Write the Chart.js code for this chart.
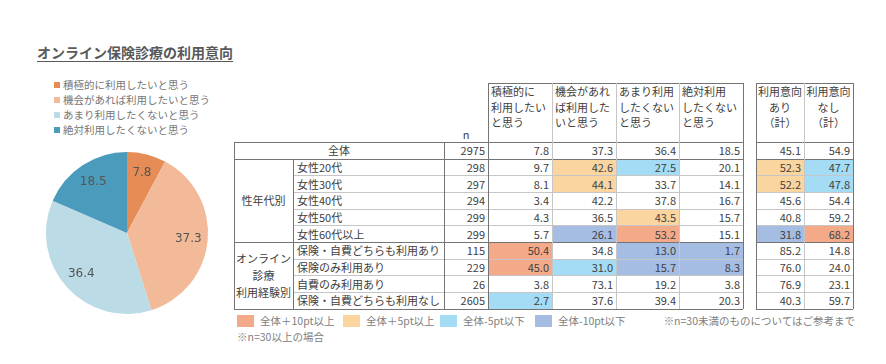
<!DOCTYPE html>
<html lang="ja">
<head>
<meta charset="utf-8">
<script src="https://cdn.jsdelivr.net/npm/chart.js"></script>
<style>
  body { margin: 0; background: #fff; font-family: "Noto Sans CJK JP", sans-serif; }
  #page { position: relative; width: 886px; height: 364px; overflow: hidden; }
  .t { position: absolute; white-space: nowrap; color: #404040; font-size: 11px; }
  .ln { position: absolute; }
  #title { position: absolute; left: 37px; top: 42px; font-size: 14px; font-weight: bold; color: #595959;
           text-decoration: underline; text-underline-offset: 3px; text-decoration-thickness: 1px; }
  #pieLegend { position: absolute; left: 54px; top: 77px; font-size: 10.5px; color: #767676; }
  #pieLegend div { height: 15px; line-height: 15px; }
  #pieLegend span { display: inline-block; width: 6px; height: 6px; margin-right: 3px; vertical-align: 1px; }
  #pieWrap { position: absolute; left: 37px; top: 143px; }
</style>
</head>
<body>
<div id="page">
  <div id="title">オンライン保険診療の利用意向</div>
  <div id="pieLegend"></div>
  <div id="pieWrap"><canvas id="pieChart" width="180" height="180"></canvas></div>
</div>
<script>
// pie
const categories = ['積極的に利用したいと思う', '機会があれば利用したいと思う', 'あまり利用したくないと思う', '絶対利用したくないと思う'];
const pieValues = [7.8, 37.3, 36.4, 18.5];
const pieColors = ['#E68D57', '#F2BA98', '#BBDBE6', '#4B9BBD'];

// table
const totalN = 2975;
const totalIntent = [45.1, 54.9];
const rowLabels = ['女性20代', '女性30代', '女性40代', '女性50代', '女性60代以上',
  '保険・自費どちらも利用あり', '保険のみ利用あり', '自費のみ利用あり', '保険・自費どちらも利用なし'];
const rowN = [298, 297, 294, 299, 299, 115, 229, 26, 2605];
const activeUse = [9.7, 8.1, 3.4, 4.3, 5.7, 50.4, 45.0, 3.8, 2.7];
const chanceUse = [42.6, 44.1, 42.2, 36.5, 26.1, 34.8, 31.0, 73.1, 37.6];
const rarelyUse = [27.5, 33.7, 37.8, 43.5, 53.2, 13.0, 15.7, 19.2, 39.4];
const neverUse = [20.1, 14.1, 16.7, 15.7, 15.1, 1.7, 8.3, 3.8, 20.3];
const intentYes = [52.3, 52.2, 45.6, 40.8, 31.8, 85.2, 76.0, 76.9, 40.3];
const intentNo = [47.7, 47.8, 54.4, 59.2, 68.2, 14.8, 24.0, 23.1, 59.7];
const groupLabels = [['性年代別'], ['オンライン', '診療', '利用経験別']];
const groupSizes = [5, 4];
const colHeaders = [['積極的に', '利用したい', 'と思う'], ['機会があれ', 'ば利用した', 'いと思う'],
  ['あまり利用', 'したくない', 'と思う'], ['絶対利用', 'したくない', 'と思う']];
const sumHeaders = [['利用意向', 'あり', '（計）'], ['利用意向', 'なし', '（計）']];
const highlightLabels = ['全体＋10pt以上', '全体＋5pt以上', '全体-5pt以下', '全体-10pt以下'];
const highlightColors = ['#F4AA89', '#FAD5A0', '#A3DCF4', '#A5BCE3'];

const page = document.getElementById('page');
const DARK = '#747474', LIGHT = '#c6c6c6';

function text(str, x, y, w, h, align, extra) {
    const d = document.createElement('div');
    d.className = 't';
    d.textContent = str;
    Object.assign(d.style, {
        left: x + 'px', top: y + 'px', width: w + 'px', height: h + 'px',
        lineHeight: h + 'px', textAlign: align || 'left'
    }, extra || {});
    page.appendChild(d);
    return d;
}
function rect(x, y, w, h, color) {
    const d = document.createElement('div');
    d.className = 'ln';
    Object.assign(d.style, { left: x + 'px', top: y + 'px', width: w + 'px', height: h + 'px', background: color });
    page.appendChild(d);
}
const hline = (x1, x2, y, c) => rect(x1, y - 0.5, x2 - x1, 1, c);
const vline = (x, y1, y2, c) => rect(x - 0.5, y1, 1, y2 - y1, c);

// pie legend (html)
const legendBox = document.getElementById('pieLegend');
categories.forEach((c, i) => {
    const row = document.createElement('div');
    row.innerHTML = `<span style="background:${pieColors[i]}"></span>${c}`;
    legendBox.appendChild(row);
});

// pie value labels
const pieLabels = {
    id: 'pieLabels',
    afterDatasetsDraw(chart) {
        const ctx = chart.ctx;
        ctx.save();
        ctx.font = '12px "DejaVu Sans", sans-serif';
        ctx.fillStyle = '#555';
        ctx.textAlign = 'center';
        ctx.textBaseline = 'middle';
        chart.getDatasetMeta(0).data.forEach((arc, i) => {
            const p = arc.getProps(['x', 'y', 'startAngle', 'endAngle', 'outerRadius'], true);
            const a = (p.startAngle + p.endAngle) / 2;
            const r = p.outerRadius * 0.76;
            ctx.fillText(pieValues[i].toFixed(1), p.x + Math.cos(a) * r, p.y + Math.sin(a) * r);
        });
        ctx.restore();
    }
};

new Chart(document.getElementById('pieChart'), {
    type: 'pie',
    data: {
        labels: categories,
        datasets: [{ data: pieValues, backgroundColor: pieColors, borderWidth: 0 }]
    },
    options: {
        responsive: false,
        animation: false,
        layout: { padding: 9 },
        plugins: { legend: { display: false }, tooltip: { enabled: false } }
    },
    plugins: [pieLabels]
});

// ---- table ----
const colX = [234, 293, 444, 488, 552, 616, 679, 743];
const sumX = [756, 804, 853];
const headTop = 83, totalTop = 142, bodyTop = 159, bodyBottom = 309;
const rowH = (bodyBottom - bodyTop) / rowLabels.length;
const dataCols = [activeUse, chanceUse, rarelyUse, neverUse];
const sumCols = [intentYes, intentNo];

function level(v, base) {
    const d = v - base;
    if (d >= 10) return 0;
    if (d >= 5) return 1;
    if (d <= -10) return 3;
    if (d <= -5) return 2;
    return -1;
}
function groupOf(i) {
    let acc = 0;
    for (let g = 0; g < groupSizes.length; g++) {
        acc += groupSizes[g];
        if (i < acc) return g;
    }
    return groupSizes.length - 1;
}

// cell fills
rowLabels.forEach((lab, i) => {
    const y = bodyTop + i * rowH;
    if (rowN[i] < 30) return;
    dataCols.forEach((col, c) => {
        const lv = level(col[i], pieValues[c]);
        if (lv >= 0) rect(colX[3 + c], y, colX[4 + c] - colX[3 + c], rowH, highlightColors[lv]);
    });
    if (groupOf(i) === 0) {
        sumCols.forEach((col, c) => {
            const lv = level(col[i], totalIntent[c]);
            if (lv >= 0) rect(sumX[c], y, sumX[c + 1] - sumX[c], rowH, highlightColors[lv]);
        });
    }
});

// headers
colHeaders.forEach((lines, c) => {
    lines.forEach((s, k) => text(s, colX[3 + c] + 3, headTop + 1 + k * 15.5, 60, 15.5, 'left'));
});
sumHeaders.forEach((lines, c) => {
    lines.forEach((s, k) => text(s, sumX[c], headTop + 1 + k * 15.5, sumX[c + 1] - sumX[c], 15.5, 'center'));
});
text('n', colX[2], 126, colX[3] - colX[2], 16, 'center');

// total row
text('全体', colX[0], totalTop, colX[2] - colX[0], bodyTop - totalTop, 'center');
text(String(totalN), colX[2], totalTop, colX[3] - colX[2] - 3, bodyTop - totalTop, 'right');
pieValues.forEach((v, c) => text(v.toFixed(1), colX[3 + c], totalTop, colX[4 + c] - colX[3 + c] - 3, bodyTop - totalTop, 'right'));
totalIntent.forEach((v, c) => text(v.toFixed(1), sumX[c], totalTop, sumX[c + 1] - sumX[c] - 3, bodyTop - totalTop, 'right'));

// body rows
rowLabels.forEach((lab, i) => {
    const y = bodyTop + i * rowH;
    text(lab, colX[1] + 4, y, colX[2] - colX[1] - 4, rowH, 'left');
    text(String(rowN[i]), colX[2], y, colX[3] - colX[2] - 3, rowH, 'right');
    dataCols.forEach((col, c) => text(col[i].toFixed(1), colX[3 + c], y, colX[4 + c] - colX[3 + c] - 3, rowH, 'right'));
    sumCols.forEach((col, c) => text(col[i].toFixed(1), sumX[c], y, sumX[c + 1] - sumX[c] - 3, rowH, 'right'));
});

// group labels
let start = 0;
groupLabels.forEach((lines, g) => {
    const y0 = bodyTop + start * rowH, h = groupSizes[g] * rowH;
    const lh = 17;
    const top = y0 + (h - lines.length * lh) / 2;
    lines.forEach((s, k) => text(s, colX[0], top + k * lh, colX[1] - colX[0], lh, 'center'));
    start += groupSizes[g];
});

// grid lines - left table
hline(colX[3], colX[7], headTop, DARK);
hline(colX[0], colX[7], totalTop, DARK);
hline(colX[0], colX[7], bodyTop, DARK);
let acc = 0;
groupSizes.forEach((n, g) => {
    for (let k = 1; k < n; k++) hline(colX[1], colX[7], bodyTop + (acc + k) * rowH, LIGHT);
    acc += n;
    hline(colX[0], colX[7], bodyTop + acc * rowH, DARK);
});
vline(colX[0], totalTop, bodyBottom, DARK);
vline(colX[1], bodyTop, bodyBottom, DARK);
vline(colX[2], totalTop, bodyBottom, DARK);
vline(colX[3], headTop, bodyBottom, DARK);
for (let c = 4; c < 7; c++) vline(colX[c], headTop, bodyBottom, LIGHT);
vline(colX[7], headTop, bodyBottom, DARK);

// grid lines - summary table
hline(sumX[0], sumX[2], headTop, DARK);
hline(sumX[0], sumX[2], totalTop, DARK);
hline(sumX[0], sumX[2], bodyTop, DARK);
acc = 0;
groupSizes.forEach((n, g) => {
    for (let k = 1; k < n; k++) hline(sumX[0], sumX[2], bodyTop + (acc + k) * rowH, LIGHT);
    acc += n;
    hline(sumX[0], sumX[2], bodyTop + acc * rowH, DARK);
});
vline(sumX[0], headTop, bodyBottom, DARK);
vline(sumX[1], headTop, bodyBottom, LIGHT);
vline(sumX[2], headTop, bodyBottom, DARK);

// highlight legend + notes
const swatchX = [237, 343, 440, 535];
highlightLabels.forEach((s, i) => {
    rect(swatchX[i], 315, 17, 12, highlightColors[i]);
    text(s, swatchX[i] + 23, 313, 90, 16, 'left', { color: '#808080', fontSize: '10.5px' });
});
text('※n=30以上の場合', 237, 329, 150, 16, 'left', { color: '#808080', fontSize: '10.5px' });
text('※n=30未満のものについてはご参考まで', 655, 313, 200, 16, 'right', { color: '#808080', fontSize: '10.5px' });
</script>
</body>
</html>
